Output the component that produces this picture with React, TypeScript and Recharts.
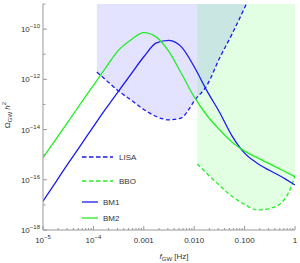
import React from "react";
import { ComposedChart, Line, Area, XAxis, YAxis } from "recharts";

// frequency grid (Hz) for the two benchmark spectra
const freqs = [
  1e-5, 1.78e-5, 3.16e-5, 5.62e-5, 1e-4, 1.78e-4, 3.16e-4, 5.62e-4, 1e-3, 1.78e-3, 3.16e-3,
  5.62e-3, 1e-2, 1.78e-2, 3.16e-2, 5.62e-2, 0.1, 0.178, 0.316, 0.562, 1,
];
const bm1 = [
  1.41e-17, 7.94e-17, 4.47e-16, 2.4e-15, 1.32e-14, 6.92e-14, 3.39e-13, 1.66e-12, 7.94e-12, 2.82e-11,
  3.55e-11, 1.91e-11, 3.16e-12, 3.55e-13, 5.01e-14, 5.62e-15, 1.15e-15, 4.57e-16, 2.34e-16, 1.26e-16,
  6.17e-17,
];
const bm2 = [
  7.59e-16, 3.98e-15, 2.09e-14, 1.1e-13, 5.75e-13, 3.02e-12, 1.45e-11, 3.8e-11, 7.24e-11, 4.79e-11,
  1.26e-11, 1.66e-12, 2.0e-13, 3.72e-14, 1.0e-14, 3.16e-15, 1.38e-15, 7.59e-16, 4.27e-16, 2.4e-16,
  1.32e-16,
];

// sensitivity curves
const lisaFreqs = [
  1.17e-4, 1.78e-4, 3.16e-4, 5.62e-4, 1e-3, 1.78e-3, 3.16e-3, 5.62e-3, 7.5e-3, 1e-2, 1.78e-2, 3.16e-2,
  5.62e-2, 0.1, 0.133,
];
const lisa = [
  1.95e-12, 9.33e-13, 3.39e-13, 1.48e-13, 6.31e-14, 3.31e-14, 2.45e-14, 2.95e-14, 5.62e-14, 1.38e-13,
  5.62e-13, 6.76e-12, 6.31e-11, 7.08e-10, 2.51e-9,
];
const bboFreqs = [1.15e-2, 1.78e-2, 3.16e-2, 5.62e-2, 0.1, 0.178, 0.316, 0.562, 0.75, 1];
const bbo = [4.27e-16, 1.78e-16, 6.03e-17, 2.19e-17, 1.05e-17, 6.31e-18, 7.24e-18, 1.32e-17, 3.16e-17, 1.41e-16];

const xTicks = [1e-5, 1e-4, 1e-3, 1e-2, 0.1, 1];
const xTickLabels = [["10", "−5"], ["10", "−4"], ["0.001"], ["0.010"], ["0.100"], ["1"]];
const yTicks = [1e-18, 1e-16, 1e-14, 1e-12, 1e-10];
const yTickLabels = ["−18", "−16", "−14", "−12", "−10"];
const yMinor = [1e-17, 1e-15, 1e-13, 1e-11, 1e-9];

const Y_TOP = 1e-9;
const BLUE = "#1a1aee";
const GREEN = "#22ee22";
const AXIS = "#999";
const TEXT = "#333";
const FONT = "'Liberation Sans', Arial, sans-serif";

const xMinor = [-5, -4, -3, -2, -1].flatMap((e) =>
  [2, 3, 4, 5, 6, 7, 8, 9].map((m) => m * Math.pow(10, e))
);
const xAllTicks = [...xTicks, ...xMinor].sort((a, b) => a - b);
const yAllTicks = [...yTicks, ...yMinor].sort((a, b) => a - b);

const findIdx = (arr: number[], v: number) => arr.findIndex((a) => Math.abs(a / v - 1) < 1e-6);

const allF = Array.from(new Set([...freqs, ...lisaFreqs, ...bboFreqs])).sort((a, b) => a - b);
const data = allF.map((f) => {
  const i = findIdx(freqs, f);
  const j = findIdx(lisaFreqs, f);
  const k = findIdx(bboFreqs, f);
  return {
    f,
    bm1: i >= 0 ? bm1[i] : null,
    bm2: i >= 0 ? bm2[i] : null,
    lisa: j >= 0 ? lisa[j] : null,
    bbo: k >= 0 ? bbo[k] : null,
    lisaBand: j >= 0 ? [lisa[j], Y_TOP] : null,
    bboBand: k >= 0 ? [bbo[k], Y_TOP] : null,
  };
});

function BottomTick({ x, y, payload }: any) {
  const idx = findIdx(xTicks, payload.value);
  const major = idx >= 0;
  return (
    <g>
      <line x1={x} x2={x} y1={y} y2={y - (major ? 4 : 2)} stroke={AXIS} />
      {major && (
        <text x={x} y={y + 13} textAnchor="middle" fontSize={8} fill={TEXT} fontFamily={FONT}>
          <tspan>{xTickLabels[idx][0]}</tspan>
          {xTickLabels[idx][1] && (
            <tspan dy={-4} fontSize={6}>
              {xTickLabels[idx][1]}
            </tspan>
          )}
        </text>
      )}
    </g>
  );
}

function TopTick({ x, y, payload }: any) {
  const major = findIdx(xTicks, payload.value) >= 0;
  return <line x1={x} x2={x} y1={y} y2={y + (major ? 4 : 2)} stroke={AXIS} />;
}

function LeftTick({ x, y, payload }: any) {
  const idx = findIdx(yTicks, payload.value);
  const major = idx >= 0;
  return (
    <g>
      <line x1={x} x2={x + (major ? 4 : 2.5)} y1={y} y2={y} stroke={AXIS} />
      {major && (
        <text x={x - 3} y={y + 3} textAnchor="end" fontSize={8} fill={TEXT} fontFamily={FONT}>
          <tspan>10</tspan>
          <tspan dy={-4} fontSize={6}>
            {yTickLabels[idx]}
          </tspan>
        </text>
      )}
    </g>
  );
}

function RightTick({ x, y, payload }: any) {
  const major = findIdx(yTicks, payload.value) >= 0;
  return <line x1={x} x2={x - (major ? 4 : 2.5)} y1={y} y2={y} stroke={AXIS} />;
}

function Overlay() {
  return (
    <svg
      width={300}
      height={263}
      style={{ position: "absolute", left: 0, top: 0, pointerEvents: "none" }}
      fontFamily={FONT}
      fontSize={8}
      fill={TEXT}
    >
      {/* legend */}
      <line x1={82} x2={113} y1={157} y2={157} stroke={BLUE} strokeWidth={1.3} strokeDasharray="4.5 2.5" />
      <text x={119} y={160}>LISA</text>
      <line x1={82} x2={113} y1={181} y2={181} stroke={GREEN} strokeWidth={1.3} strokeDasharray="4.5 2.5" />
      <text x={119} y={184}>BBO</text>
      <line x1={82} x2={98} y1={202} y2={202} stroke={BLUE} strokeWidth={1.3} />
      <text x={103} y={205}>BM1</text>
      <line x1={82} x2={98} y1={218} y2={218} stroke={GREEN} strokeWidth={1.3} />
      <text x={103} y={221}>BM2</text>
      {/* axis titles */}
      <text x={174} y={259} textAnchor="middle">
        <tspan fontStyle="italic">f</tspan>
        <tspan dy={2} fontSize={6}>GW</tspan>
        <tspan dy={-2}> [Hz]</tspan>
      </text>
      <text x={10} y={115} textAnchor="middle" transform="rotate(-90 10 115)">
        <tspan>Ω</tspan>
        <tspan dy={2} fontSize={6}>GW</tspan>
        <tspan dy={-2}> </tspan>
        <tspan fontStyle="italic">h</tspan>
        <tspan dy={-4} fontSize={6}>2</tspan>
      </text>
    </svg>
  );
}

export default function App() {
  return (
    <div style={{ position: "absolute", left: 0, top: 0, width: 300, height: 263, background: "#fff" }}>
      <ComposedChart width={300} height={263} data={data} margin={{ top: 4, right: 5, bottom: 0, left: 0 }}>
        <XAxis
          dataKey="f"
          type="number"
          scale="log"
          domain={[1e-5, 1]}
          allowDataOverflow
          ticks={xAllTicks}
          interval={0}
          height={33}
          tickSize={0}
          tickMargin={0}
          tickLine={false}
          axisLine={{ stroke: AXIS }}
          tick={<BottomTick />}
        />
        <XAxis
          xAxisId="top"
          dataKey="f"
          type="number"
          scale="log"
          orientation="top"
          domain={[1e-5, 1]}
          allowDataOverflow
          ticks={xAllTicks}
          interval={0}
          height={0}
          tickSize={0}
          tickMargin={0}
          tickLine={false}
          axisLine={{ stroke: AXIS }}
          tick={<TopTick />}
        />
        <YAxis
          type="number"
          scale="log"
          domain={[1e-18, Y_TOP]}
          allowDataOverflow
          ticks={yAllTicks}
          interval={0}
          width={43}
          tickSize={0}
          tickMargin={0}
          tickLine={false}
          axisLine={{ stroke: AXIS }}
          tick={<LeftTick />}
        />
        <YAxis
          yAxisId="right"
          type="number"
          scale="log"
          orientation="right"
          domain={[1e-18, Y_TOP]}
          allowDataOverflow
          ticks={yAllTicks}
          interval={0}
          width={0}
          tickSize={0}
          tickMargin={0}
          tickLine={false}
          axisLine={{ stroke: AXIS }}
          tick={<RightTick />}
        />
        <Area
          dataKey="lisaBand"
          type="linear"
          stroke="none"
          fill="#0000ff"
          fillOpacity={0.11}
          connectNulls
          isAnimationActive={false}
        />
        <Area
          dataKey="bboBand"
          type="linear"
          stroke="none"
          fill="#00ff00"
          fillOpacity={0.11}
          connectNulls
          isAnimationActive={false}
        />
        <Line dataKey="lisa" type="monotone" stroke={BLUE} strokeWidth={1.3} strokeDasharray="4 2.5" dot={false} connectNulls isAnimationActive={false} />
        <Line dataKey="bbo" type="monotone" stroke={GREEN} strokeWidth={1.3} strokeDasharray="4 2.5" dot={false} connectNulls isAnimationActive={false} />
        <Line dataKey="bm1" type="monotone" stroke={BLUE} strokeWidth={1.3} dot={false} connectNulls isAnimationActive={false} />
        <Line dataKey="bm2" type="monotone" stroke={GREEN} strokeWidth={1.3} dot={false} connectNulls isAnimationActive={false} />
      </ComposedChart>
      <Overlay />
    </div>
  );
}
